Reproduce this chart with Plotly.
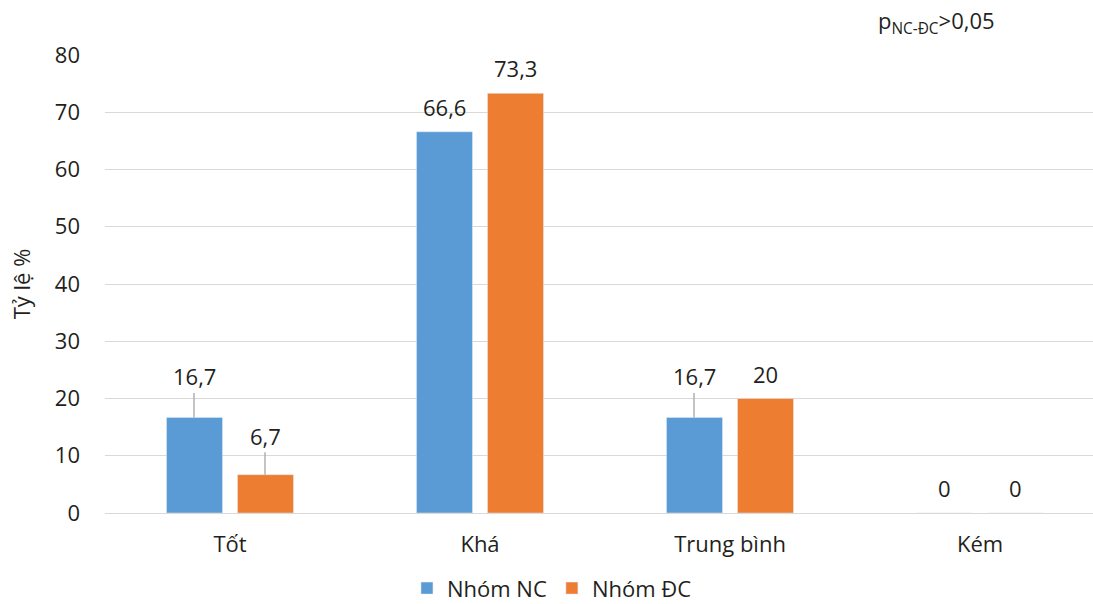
import plotly.graph_objects as go

categories = ["Tốt", "Khá", "Trung bình", "Kém"]
nhom_nc = [16.7, 66.6, 16.7, 0]
nhom_dc = [6.7, 73.3, 20, 0]
nc_labels = ["16,7", "66,6", "16,7", "0"]
dc_labels = ["6,7", "73,3", "20", "0"]
# leader-line length (px) above each bar; 0 means plain label
nc_leader = [22, 0, 22, 0]
dc_leader = [20, 0, 0, 0]

BLUE = "#5B9BD5"
ORANGE = "#ED7D31"
FONT = "Open Sans, Noto Sans, sans-serif"
TXT = "#231F20"
FS = 22

fig = go.Figure()
fig.add_trace(go.Bar(x=categories, y=nhom_nc, name="Nhóm NC", marker_color=BLUE))
fig.add_trace(go.Bar(x=categories, y=nhom_dc, name="Nhóm ĐC", marker_color=ORANGE))

annotations = []
for vals, labels, leaders, shift in ((nhom_nc, nc_labels, nc_leader, -36),
                                     (nhom_dc, dc_labels, dc_leader, 35)):
    for cat, v, lab, lead in zip(categories, vals, labels, leaders):
        if lead:
            annotations.append(dict(
                x=cat, y=v, xshift=shift, text=lab, showarrow=True,
                arrowhead=0, arrowwidth=1.3, arrowcolor="#A6A6A6",
                ax=0, ay=-(lead + 19), standoff=0, startstandoff=0,
                font=dict(size=FS, color=TXT, family=FONT)))
        else:
            annotations.append(dict(
                x=cat, y=v, xshift=shift, yshift=8, text=lab,
                showarrow=False, yanchor="bottom",
                font=dict(size=FS, color=TXT, family=FONT)))

annotations.append(dict(
    xref="paper", yref="paper", x=0.78, y=1.03, xanchor="left", yanchor="bottom",
    text="p<sub>NC-ĐC</sub>&gt;0,05", showarrow=False,
    font=dict(size=FS, color=TXT, family=FONT)))

fig.update_layout(
    width=1093, height=604,
    margin=dict(l=105, r=0, t=55, b=91),
    paper_bgcolor="white", plot_bgcolor="white",
    barmode="group", bargap=0.432, bargroupgap=0.211,
    font=dict(family=FONT, size=FS, color=TXT),
    showlegend=True,
    legend=dict(orientation="h", xref="container", x=0.505, xanchor="center",
                yref="container", y=0.026, yanchor="middle",
                font=dict(size=FS, color=TXT), itemwidth=30),
    annotations=annotations,
    xaxis=dict(range=[-0.5, 3.452], showgrid=False, zeroline=False,
               showline=False, ticks="", tickfont=dict(size=FS),
               ticklabelstandoff=16),
    yaxis=dict(range=[0, 80], dtick=10, showgrid=True, gridcolor="#D9D9D9",
               gridwidth=1.3, zeroline=True, zerolinecolor="#D9D9D9",
               zerolinewidth=1.3, showline=False, ticks="",
               tickfont=dict(size=FS), ticklabelstandoff=24,
               title=dict(text="Tỷ lệ %", font=dict(size=FS), standoff=18)),
)

fig.write_html("out.html")
